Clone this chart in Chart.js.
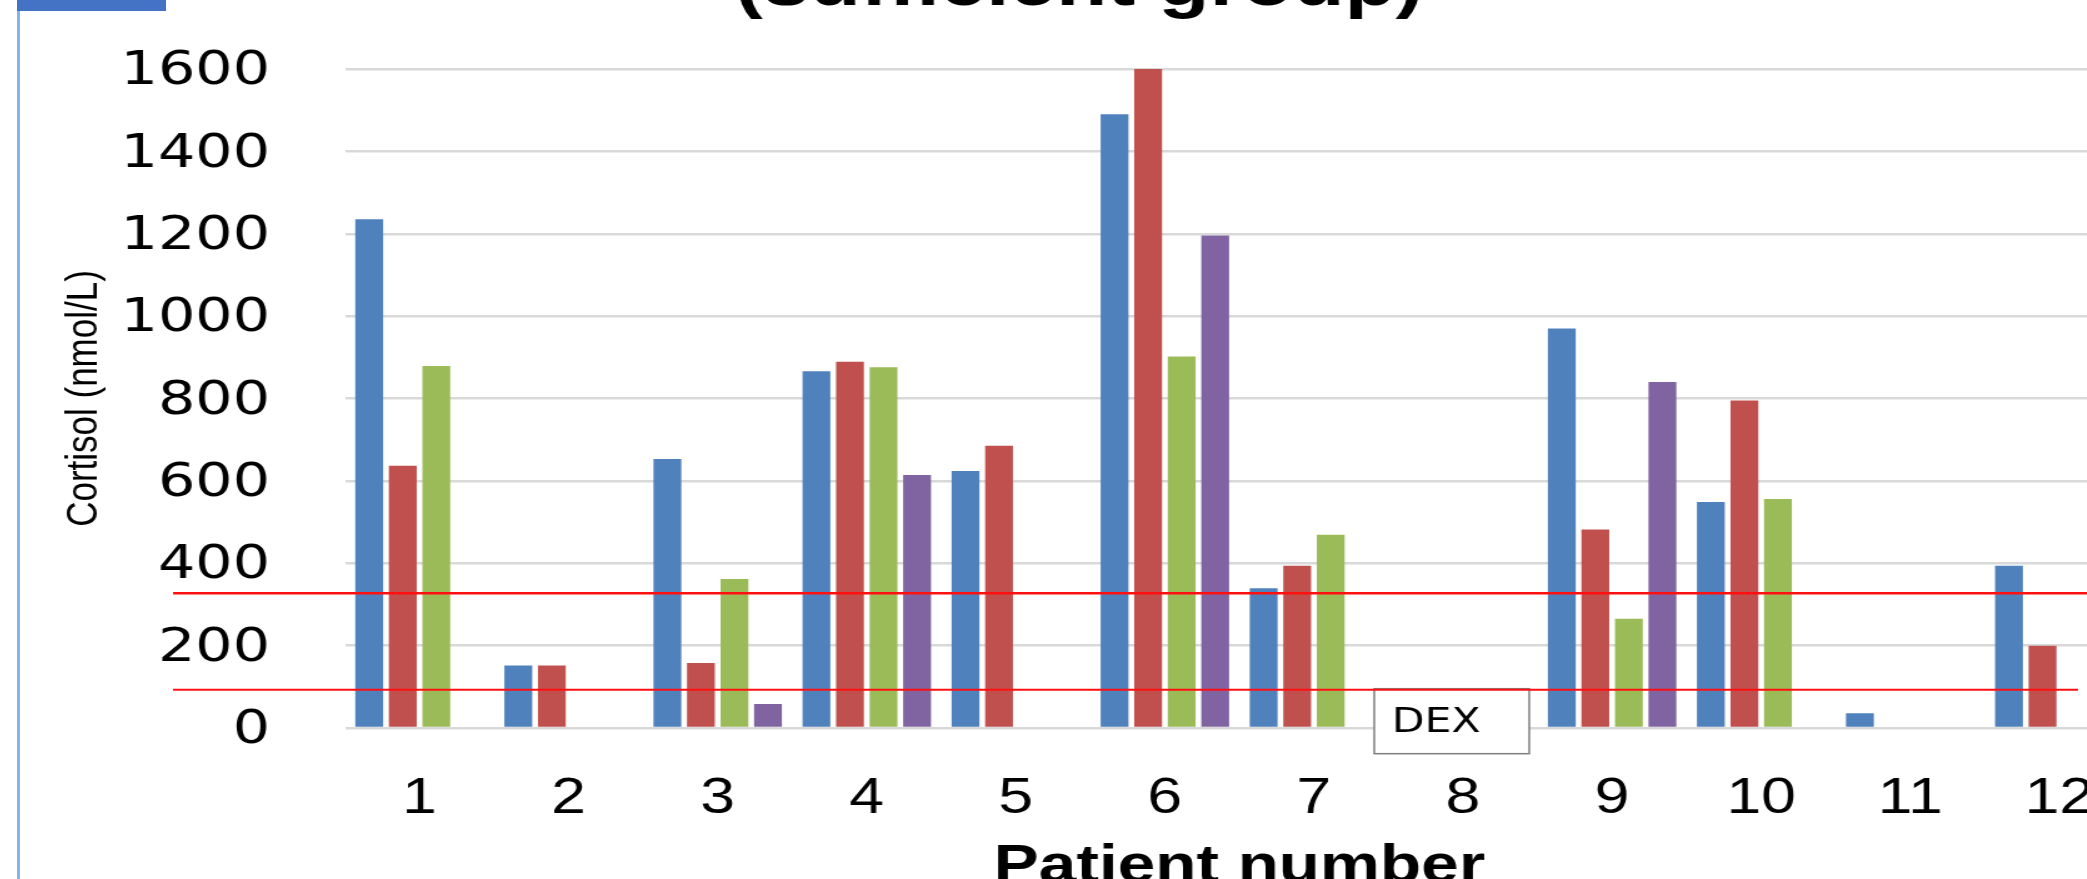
<!DOCTYPE html>
<html><head><meta charset="utf-8">
<script src="https://cdn.jsdelivr.net/npm/chart.js@4/dist/chart.umd.min.js"></script>
<style>
html,body{margin:0;padding:0;background:#fff;overflow:hidden;width:2087px;height:879px;}
#frame{position:absolute;left:0;top:0;width:2087px;height:879px;overflow:hidden;background:#fff;}
#wrap{position:absolute;left:18px;top:-100px;width:1702px;height:1000px;transform:scaleX(1.25);transform-origin:0 0;}
#edge{position:absolute;left:17px;top:0;width:3px;height:879px;background:#86b3e8;}
#tab{position:absolute;left:17px;top:0;width:149px;height:11px;background:#4472c4;}
</style></head><body>
<div id="frame">
  <div id="wrap"><canvas id="c"></canvas></div>
  <div id="edge"></div><div id="tab"></div>
</div>
<script>
// ---- data ----
const categories = ['1','2','3','4','5','6','7','8','9','10','11','12'];
const seriesBlue   = [1235, 152, 653, 866, 624, 1490, 339, null, 970, 549, 36, 394];
const seriesRed    = [637, 152, 158, 889, 685, 1600, 394, null, 482, 795, null, 200];
const seriesGreen  = [879, null, 362, 876, null, 902, 469, null, 265, 556, null, null];
const seriesPurple = [null, null, 58, 614, null, 1196, null, null, 840, null, null, null];
const yTicks = [0, 200, 400, 600, 800, 1000, 1200, 1400, 1600];
const referenceLines = [327, 93];
const noteLabel = 'DEX';
const noteCategory = '8';
const titleText = '(sufficient group)';
const xTitle = 'Patient number';
const yTitle = 'Cortisol (nmol/L)';

const annot = {
  id: 'annot',
  afterDatasetsDraw(chart) {
    const {ctx, scales: {x, y}} = chart;
    ctx.save();
    // DEX box
    const cx = x.getPixelForValue(categories.indexOf(noteCategory));
    const top = y.getPixelForValue(referenceLines[1]) - 1;
    ctx.fillStyle = '#ffffff';
    ctx.fillRect(cx - 71, top, 124, 65);
    ctx.strokeStyle = '#7f7f7f';
    ctx.lineWidth = 1.5;
    ctx.strokeRect(cx - 71, top, 124, 65);
    ctx.fillStyle = '#000';
    ctx.font = '34px "DejaVu Sans"';
    ctx.textAlign = 'left';
    ctx.textBaseline = 'alphabetic';
    ctx.fillText(noteLabel, cx - 57, top + 43);
    // red reference lines
    ctx.strokeStyle = '#ff1010';
    referenceLines.forEach((v, i) => {
      const py = y.getPixelForValue(v);
      ctx.lineWidth = i === 0 ? 2.6 : 2;
      ctx.beginPath();
      ctx.moveTo(124, py);
      ctx.lineTo(i === 0 ? chart.width : 1648, py);
      ctx.stroke();
    });
    ctx.restore();
  }
};

new Chart(document.getElementById('c'), {
  type: 'bar',
  data: {
    labels: categories,
    datasets: [
      {label: 'Series 1', data: seriesBlue, backgroundColor: '#4f81bd'},
      {label: 'Series 2', data: seriesRed, backgroundColor: '#c0504d'},
      {label: 'Series 3', data: seriesGreen, backgroundColor: '#9bbb59'},
      {label: 'Series 4', data: seriesPurple, backgroundColor: '#8064a2'}
    ]
  },
  options: {
    responsive: true,
    maintainAspectRatio: false,
    animation: false,
    layout: {padding: {left: 0, right: 4, top: 0, bottom: 0}},
    datasets: {bar: {categoryPercentage: 0.9, barPercentage: 0.83, borderWidth: 0, skipNull: false}},
    plugins: {
      legend: {display: false},
      tooltip: {enabled: false},
      title: {
        display: true, text: titleText, color: '#000',
        font: {family: '"Liberation Sans"', size: 67, weight: 'bold'},
        padding: {top: 46, bottom: 42.6}
      }
    },
    scales: {
      x: {
        grid: {display: false, drawTicks: false},
        border: {display: false},
        ticks: {color: '#000', padding: 41, font: {family: '"Liberation Sans"', size: 50}, maxRotation: 0, autoSkip: false},
        title: {display: true, text: xTitle, color: '#000', font: {family: '"Liberation Sans"', size: 54, weight: 'bold'}, padding: {top: 0, bottom: 0}},
        afterFit(s) { s.height = 172; }
      },
      y: {
        min: 0, max: 1600,
        afterBuildTicks(s) { s.ticks = yTicks.map(v => ({value: v})); },
        grid: {color: '#d9d9d9', lineWidth: 2.5, drawTicks: false},
        border: {display: false},
        ticks: {color: '#000', padding: 60, labelOffset: 3, font: {family: '"DejaVu Sans"', size: 47}, callback: v => String(v)},
        title: {display: true, text: yTitle, color: '#000', font: {family: '"Liberation Sans"', size: 35}, padding: {top: 32, bottom: 0}},
        afterFit(s) { s.width = 261.6; }
      }
    }
  },
  plugins: [annot]
});
</script>
</body></html>
